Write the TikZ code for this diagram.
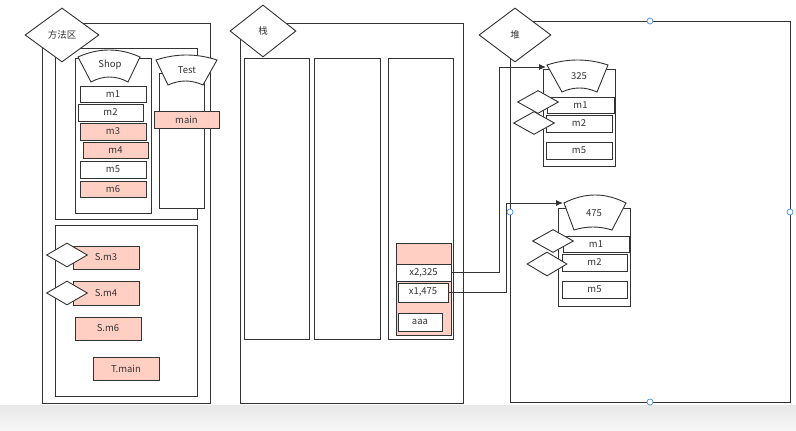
\documentclass[tikz,border=0pt]{standalone}
\usepackage{fontspec}
\setmainfont{Noto Sans CJK SC}
\usetikzlibrary{shapes.geometric,arrows.meta}
\definecolor{ln}{HTML}{333333}
\definecolor{pk}{HTML}{FFCFC4}
\definecolor{hd}{HTML}{4A90D9}
\newcommand\rb[7]{\node[bx, fill=#6, minimum width={(#4-#2)*1pt}, minimum height={(#5-#3)*1pt}] (#1) at ({(#2+#4)/2},{(#3+#5)/2}) {#7};}
\newcommand\dm[6]{\node[dmd, minimum width={#4*1pt}, minimum height={#5*1pt}] (#1) at (#2,#3) {#6};}
% header: xtl, ytl, ypeak, xtr, xbl, xbr, yb, ybmid
\newcommand\hdr[8]{%
  \filldraw[fill=white, draw=ln, line width=0.9pt]
   (#1,#2) .. controls ({#1+(#4-#1)/3},{(4*#3-#2)/3}) and ({#1+2*(#4-#1)/3},{(4*#3-#2)/3}) .. (#4,#2)
   -- (#6,#7) .. controls ({#6-(#6-#5)/3},{(4*#8-#7)/3}) and ({#6-2*(#6-#5)/3},{(4*#8-#7)/3}) .. (#5,#7) -- cycle;}
\begin{document}
\begin{tikzpicture}[x=1pt,y=-1pt,
  every node/.style={font=\fontsize{9.5}{11}\selectfont, text=ln},
  bx/.style={draw=ln, line width=0.9pt, inner sep=0pt},
  dmd/.style={diamond, draw=ln, fill=white, line width=0.9pt, inner sep=0pt, aspect=1},
  conn/.style={draw=ln, line width=0.9pt},
  handle/.style={circle, draw=hd, fill=white, line width=0.7pt, minimum size=6pt, inner sep=0pt}]
\useasboundingbox (0,0) rectangle (796,431);
\fill[white] (0,0) rectangle (796,431);
\shade[top color=white!91!black, bottom color=white!97!black] (0,405) rectangle (796,431);

% ---------- method area ----------
\rb{mo}{42}{23}{210}{403}{white}{}
\rb{mi1}{55}{48}{197}{219}{white}{}
\rb{mi2}{55}{225}{197}{396}{white}{}
\rb{shopcol}{75}{58}{151}{213}{white}{}
\rb{testcol}{159}{73}{204}{208}{white}{}
\rb{sm1}{80}{86}{146}{102}{white}{m1}
\rb{sm2}{78}{104}{143}{121}{white}{m2}
\rb{sm3}{80}{123}{146}{140}{pk}{m3}
\rb{sm4}{83}{142}{148}{158}{pk}{m4}
\rb{sm5}{80}{161}{146}{178}{white}{m5}
\rb{sm6}{80}{181}{146}{197}{pk}{m6}
\rb{tmain}{154}{111}{219}{128}{pk}{main}
\rb{Sm3}{73}{246}{139}{269}{pk}{S.m3}
\rb{Sm4}{73}{281}{139}{305}{pk}{S.m4}
\rb{Sm6}{75}{317}{141}{340}{pk}{S.m6}
\rb{Tmain}{93}{357}{159}{380}{pk}{T.main}
\hdr{78}{57}{50}{140}{91}{128}{82}{77}
\node (shop) at (110,65) {Shop};
\hdr{156}{60}{55}{217}{168}{203}{85}{81}
\node (test) at (187,70) {Test};
\dm{d1}{67}{255}{41}{24}{}
\dm{d2}{67}{293}{41}{24}{}
\dm{ma}{62}{35}{74}{54}{方法区}

% ---------- stack ----------
\rb{so}{240}{23}{463}{403}{white}{}
\rb{c1}{244}{58}{309}{339}{white}{}
\rb{c2}{314}{58}{380}{339}{white}{}
\rb{c3}{388}{58}{453}{339}{white}{}
\rb{frame}{396}{243}{451}{335}{pk}{}
\rb{x2}{396}{264}{451}{281}{white}{x2,325}
\rb{x1}{398}{283}{448}{302}{white}{x1,475}
\rb{aaa}{398}{313}{442}{331}{white}{aaa}
\dm{st}{263}{31}{66}{52}{栈}

% ---------- heap ----------
\rb{ho}{510}{21}{790}{402}{white}{}
\rb{oa}{543}{69}{615}{166}{white}{}
\rb{oam1}{547}{97}{614}{113}{white}{m1}
\rb{oam2}{546}{115}{612}{132}{white}{m2}
\rb{oam5}{546}{142}{612}{159}{white}{m5}
\hdr{547}{65}{60}{608}{562}{597}{92}{88}
\node (n325) at (579,76) {325};
\rb{ob}{558}{208}{630}{306}{white}{}
\rb{obm1}{563}{236}{629}{252}{white}{m1}
\rb{obm2}{562}{254}{627}{271}{white}{m2}
\rb{obm5}{562}{281}{627}{298}{white}{m5}
\hdr{564}{203}{195}{626}{574}{612}{230}{227}
\node (n475) at (594,213) {475};
\dm{a1}{538}{102}{41}{23}{}
\dm{a2}{534}{123}{41}{23}{}
\dm{b1}{553}{241}{41}{23}{}
\dm{b2}{547}{264}{40}{24}{}
\dm{hp}{515}{35}{72}{54}{堆}

% ---------- connectors ----------
\coordinate (t325) at (546,67);
\coordinate (t475) at (563,203);
\draw[conn, -{Latex[length=7pt,width=6pt]}] (x2.east) -- ++(48,0) |- (t325);
\draw[conn, -{Latex[length=7pt,width=6pt]}] (x1.east) -- ++(58,0) |- (t475);

% ---------- selection handles ----------
\node[handle] (h1) at (650,21) {};
\node[handle] (h2) at (510,212) {};
\node[handle] (h3) at (790,212) {};
\node[handle] (h4) at (650,402) {};
\end{tikzpicture}
\end{document}
